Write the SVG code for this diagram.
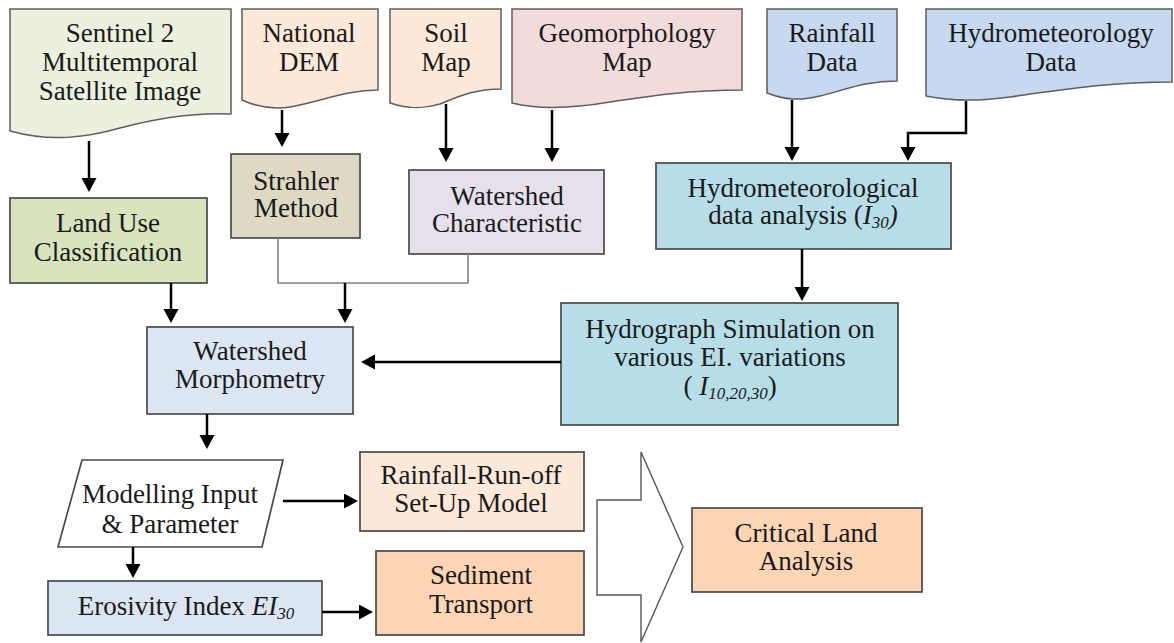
<svg xmlns="http://www.w3.org/2000/svg" width="1174" height="643" viewBox="0 0 1174 643">
<style>
.box{stroke:#4a4a4a;stroke-width:1.7}
.doc{stroke:#5e5e5e;stroke-width:1.5}
text{font-family:"Liberation Serif","Times New Roman",serif;font-size:27px;fill:#1a1a1a;text-anchor:middle}
.it{font-style:italic}
.con{stroke:#000;stroke-width:2.5;fill:none;marker-end:url(#ah)}
.gray{stroke:#808080;stroke-width:1.5;fill:none}
</style>
<defs>
<marker id="ah" markerUnits="userSpaceOnUse" markerWidth="16" markerHeight="16" refX="8" refY="7.5" orient="auto">
<path d="M0,0 L14,7.5 L0,15 Z" fill="#000"/>
</marker>
</defs>
<rect width="1174" height="643" fill="#fff"/>

<g id="sentinel">
<path class="doc" fill="#ebf1de" d="M10,9 H231 V114 C190,112 150,120 120,128 C85,138 50,142 10,131 Z"/>
<text x="120" y="42">Sentinel 2</text>
<text x="120" y="71">Multitemporal</text>
<text x="120" y="100">Satellite Image</text>
</g>
<g id="national-dem">
<path class="doc" fill="#fde9d9" d="M242,9 H378 V90 C345,90 320,102 290,107 C270,110 255,106 242,100 Z"/>
<text x="309" y="42">National</text>
<text x="309" y="71">DEM</text>
</g>
<g id="soil-map">
<path class="doc" fill="#fde9d9" d="M390,9 H501 V89 C475,89 460,96 440,104 C420,110 405,108 390,103 Z"/>
<text x="446" y="42">Soil</text>
<text x="446" y="71">Map</text>
</g>
<g id="geomorphology-map">
<path class="doc" fill="#f2dcdb" d="M512,9 H742 V90 C690,90 650,96 610,102 C575,108 540,110 512,103 Z"/>
<text x="627" y="42">Geomorphology</text>
<text x="627" y="71">Map</text>
</g>
<g id="rainfall-data">
<path class="doc" fill="#c6d9f1" d="M767,9 H897 V81 C865,81 845,90 820,96 C800,101 785,100 767,93 Z"/>
<text x="832" y="42">Rainfall</text>
<text x="832" y="71">Data</text>
</g>
<g id="hydrometeorology-data">
<path class="doc" fill="#c6d9f1" d="M926,9 H1172 V82 C1110,82 1060,90 1010,97 C975,102 950,101 926,96 Z"/>
<text x="1051" y="42">Hydrometeorology</text>
<text x="1051" y="71">Data</text>
</g>

<g id="strahler">
<rect class="box" x="231" y="154" width="129" height="84" fill="#ddd9c3"/>
<text x="296" y="190">Strahler</text>
<text x="296" y="217">Method</text>
</g>
<g id="land-use">
<rect class="box" x="10" y="198" width="197" height="85" fill="#d7e4bd"/>
<text x="108" y="232">Land Use</text>
<text x="108" y="261">Classification</text>
</g>
<g id="watershed-characteristic">
<rect class="box" x="409" y="170" width="195" height="84" fill="#e5e0ec"/>
<text x="507" y="205">Watershed</text>
<text x="507" y="232">Characteristic</text>
</g>
<g id="hydromet-analysis">
<rect class="box" x="656" y="163" width="295" height="86" fill="#b7dee8"/>
<text x="803" y="197">Hydrometeorological</text>
<text x="803" y="224">data analysis (<tspan class="it">I</tspan><tspan class="it" font-size="17" dy="4">30</tspan><tspan class="it" dy="-4">)</tspan></text>
</g>
<g id="watershed-morphometry">
<rect class="box" x="147" y="327" width="206" height="87" fill="#dce6f2"/>
<text x="250" y="360">Watershed</text>
<text x="250" y="388">Morphometry</text>
</g>
<g id="hydrograph">
<rect class="box" x="561" y="303" width="337" height="122" fill="#b7dee8"/>
<text x="730" y="338">Hydrograph Simulation on</text>
<text x="730" y="366">various EI. variations</text>
<text x="730" y="395">( <tspan class="it">I</tspan><tspan class="it" font-size="17" dy="4">10,20,30</tspan><tspan dy="-4">)</tspan></text>
</g>
<g id="modelling-input">
<path class="box" fill="#fff" d="M82,460 H283 L262,547 H58 Z"/>
<text x="170" y="503">Modelling Input</text>
<text x="170" y="533">&amp; Parameter</text>
</g>
<g id="rainfall-runoff">
<rect class="box" x="360" y="452" width="224" height="79" fill="#fde9d9"/>
<text x="471" y="484">Rainfall-Run-off</text>
<text x="471" y="512">Set-Up Model</text>
</g>
<g id="erosivity">
<rect class="box" x="48" y="581" width="274" height="54" fill="#dce6f2"/>
<text x="186" y="615">Erosivity Index <tspan class="it">EI</tspan><tspan class="it" font-size="17" dy="4">30</tspan></text>
</g>
<g id="sediment">
<rect class="box" x="376" y="551" width="208" height="84" fill="#fcd5b5"/>
<text x="481" y="584">Sediment</text>
<text x="481" y="613">Transport</text>
</g>
<g id="block-arrow">
<path fill="#fff" stroke="#555" stroke-width="1.4" d="M597,500 H641 V452 L683,547 L641,642 V595 H597 Z"/>
</g>
<g id="critical-land">
<rect class="box" x="692" y="508" width="230" height="84" fill="#fcd5b5"/>
<text x="806" y="542">Critical Land</text>
<text x="806" y="570">Analysis</text>
</g>

<g id="connectors">
<path class="con" d="M89,141 V186"/>
<path class="con" d="M282,110 V141"/>
<path class="con" d="M446,104 V156"/>
<path class="con" d="M552,110 V156"/>
<path class="con" d="M792,100 V155"/>
<path class="con" d="M966,101 V133 H908 V155"/>
<path class="gray" d="M278,238 V283 H468 V254"/>
<path class="con" d="M345,283 V317"/>
<path class="con" d="M171,283 V317"/>
<path class="con" d="M802,249 V295"/>
<path class="con" d="M561,362 H367"/>
<path class="con" d="M207,414 V443"/>
<path class="con" d="M283,501 H352"/>
<path class="con" d="M133,547 V572"/>
<path class="con" d="M322,612 H367"/>
</g>
</svg>
